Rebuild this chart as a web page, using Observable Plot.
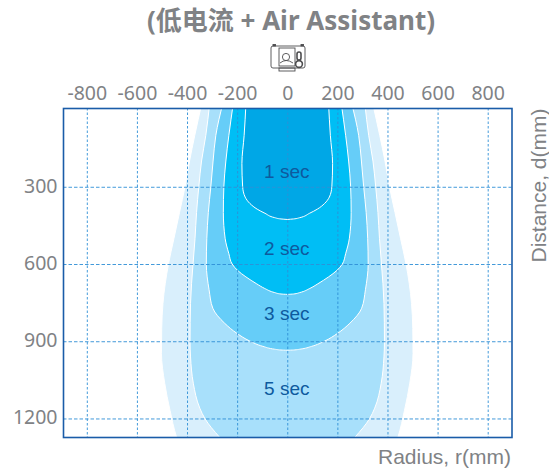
<!DOCTYPE html>
<html>
<head>
<meta charset="utf-8">
<script src="https://cdn.jsdelivr.net/npm/d3@7"></script>
<script src="https://cdn.jsdelivr.net/npm/@observablehq/plot@0.6"></script>
<style>
html,body{margin:0;padding:0;background:#fff;overflow:hidden}
#wrap{position:relative;width:549px;height:470px}
#title{height:44px;line-height:44px;text-align:center;font:bold 26px "Noto Sans","Noto Sans CJK SC",sans-serif;color:#808285;white-space:nowrap;padding-left:33px;box-sizing:border-box;width:549px}
#icon{height:28px;padding-left:270px}
#icon svg{display:block}
#chart{height:398px}
#chart svg{display:block}
</style>
</head>
<body>
<div id="wrap">
<div id="title">(低电流 + Air Assistant)</div>
<div id="icon">
<svg width="37" height="28" viewBox="0 0 37 28" fill="none" stroke="#4d4d4f" stroke-width="0.9">
<rect x="1" y="2" width="34" height="22" rx="2"/>
<rect x="3" y="0.5" width="2.5" height="1.5" fill="#4d4d4f"/>
<rect x="31" y="0.5" width="2.5" height="1.5" fill="#4d4d4f"/>
<rect x="9" y="4" width="16" height="18"/>
<circle cx="16" cy="13" r="3.6"/>
<path d="M10 19 Q16 14 23 19"/>
<rect x="27" y="8" width="4" height="8" rx="2" stroke-width="1.6"/>
<circle cx="29" cy="20" r="3.4" stroke-width="1.6"/>
<rect x="9" y="24" width="16" height="3"/>
</svg>
</div>
<div id="chart"></div>
</div>
<script>
const xTicks = [-800,-600,-400,-200,0,200,400,600,800];
const yTicks = [300,600,900,1200];
const yTickLabels = ["300","600","900","1200"];

const d5Outer = [-20,100,200,300,400,500,600,753,850,947,1063,1168,1272,1320];
const r5Outer = [342,369,390,408,430,452,474,496,501,502,489,468,442,425];

const d5 = [-20,100,200,300,400,500,600,753,900,961,1063,1160,1200,1272,1320];
const r5 = [310,325,342,353,362,368,376,386,388,386,375,349,329,271,225];

const d3s = [-20,100,200,300,400,500,600,700,772,830,870,899,920,931,934,935];
const r3s = [258,285,296,305,315,321,323,312,297,250,200,150,97,50,25,0];

const d2 = [-20,100,200,300,400,500,560,600,625,650,677,695,711,716.5,718];
const r2 = [216,233,245,253,255,248,233,220,198,165,122,90,50,25,0];

const d1 = [-20,100,210,300,340,365,387,403,420,425,427];
const r1 = [165,172,181,178,168,149,120,89,50,25,0];

const bandNames = ["5 sec outer","5 sec","3 sec","2 sec","1 sec"];
const bandColors = ["#d9effc","#a8e0fb","#66cdf8","#00bef5","#00a7e6"];
const bandD = [d5Outer,d5,d3s,d2,d1];
const bandR = [r5Outer,r5,r3s,r2,r1];

const labels = ["1 sec","2 sec","3 sec","5 sec"];
const labelD = [240,539,791,1082];

const bands = bandNames.map((name,i)=>({
  name, color:bandColors[i],
  rows:bandD[i].map((d,j)=>({d,r:bandR[i][j]}))
}));

const plot = Plot.plot({
  width:549,
  height:398,
  marginTop:36,
  marginBottom:33,
  marginLeft:63,
  marginRight:37.5,
  style:{background:"transparent",fontFamily:'"Noto Sans",sans-serif'},
  x:{domain:[-895,895]},
  y:{domain:[-6,1272],reverse:true},
  marks:[
    ...bands.map(b=>Plot.areaX(b.rows,{
      y:"d",x1:r=>-r.r,x2:r=>r.r,fill:b.color,stroke:"#fff",strokeWidth:1,
      curve:"monotone-y",clip:true
    })),
    Plot.gridX(xTicks,{stroke:"#2f8fd6",strokeOpacity:0.9,strokeWidth:1,strokeDasharray:"2.5,2"}),
    Plot.gridY(yTicks,{stroke:"#2f8fd6",strokeOpacity:0.9,strokeWidth:1,strokeDasharray:"3.5,2"}),
    Plot.frame({stroke:"#1a5ca8",strokeWidth:1.6}),
    Plot.text(labels,{x:()=>-4,y:(l,i)=>labelD[i],text:l=>l,fill:"#0e5a9e",fontSize:19,fontFamily:'"Liberation Sans",sans-serif'}),
    Plot.axisX(xTicks,{anchor:"top",tickSize:0,tickPadding:9,label:null,fill:"#808285",fontSize:19.5,tickFormat:t=>String(t)}),
    Plot.axisY(yTicks,{anchor:"left",tickSize:0,tickPadding:6,dy:-1,label:null,fill:"#808285",fontSize:19.5,tickFormat:t=>yTickLabels[yTicks.indexOf(t)]}),
    Plot.text(["Radius, r(mm)"],{frameAnchor:"bottom-right",dy:26,dx:-1,textAnchor:"end",fill:"#808285",fontSize:21,fontFamily:'"Liberation Sans",sans-serif'}),
    Plot.text(["Distance, d(mm)"],{frameAnchor:"top-right",dx:19,dy:0,rotate:-90,textAnchor:"end",fill:"#808285",fontSize:21,fontFamily:'"Liberation Sans",sans-serif'})
  ]
});
document.getElementById("chart").appendChild(plot);
</script>
</body>
</html>
